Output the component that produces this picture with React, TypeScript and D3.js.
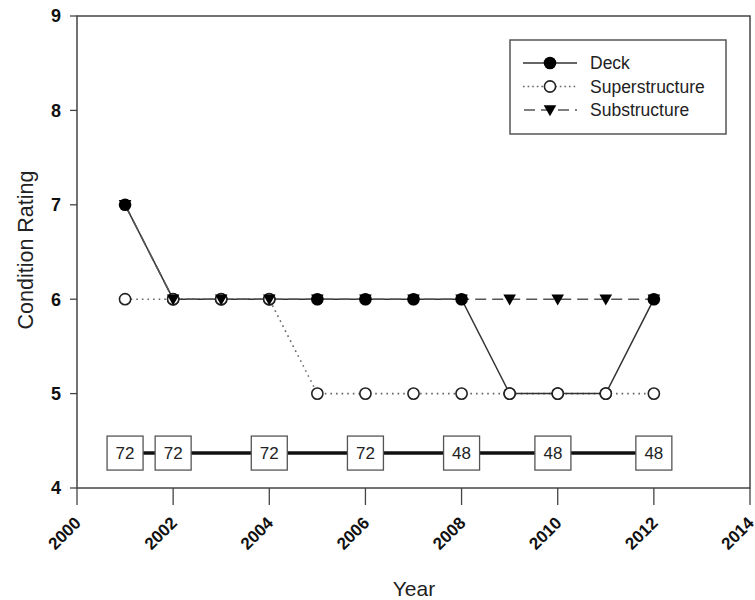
import React from "react";
import * as d3 from "d3";

const years = [2001, 2002, 2003, 2004, 2005, 2006, 2007, 2008, 2009, 2010, 2011, 2012];
const deck = [7, 6, 6, 6, 6, 6, 6, 6, 5, 5, 5, 6];
const superstructure = [6, 6, 6, 6, 5, 5, 5, 5, 5, 5, 5, 5];
const substructure = [7, 6, 6, 6, 6, 6, 6, 6, 6, 6, 6, 6];

const boxYears = [2001, 2002, 2004, 2006, 2008, 2009.9, 2012];
const boxLabels = ["72", "72", "72", "72", "48", "48", "48"];
const boxLevel = 4.37;

const xTicks = [2000, 2002, 2004, 2006, 2008, 2010, 2012, 2014];
const yTicks = [4, 5, 6, 7, 8, 9];

const legendItems = ["Deck", "Superstructure", "Substructure"];

const W = 755;
const H = 600;
const FONT = "Liberation Sans, Arial, sans-serif";

export default function App() {
  const x = d3.scaleLinear().domain([2000, 2014]).range([77, 750]);
  const y = d3.scaleLinear().domain([4, 9]).range([488, 16]);

  const line = d3
    .line<[number, number]>()
    .x((d) => x(d[0]))
    .y((d) => y(d[1]));

  const deckPts = years.map((yr, i) => [yr, deck[i]] as [number, number]);
  const superPts = years.map((yr, i) => [yr, superstructure[i]] as [number, number]);
  const subPts = years.map((yr, i) => [yr, substructure[i]] as [number, number]);

  const tri = (cx: number, cy: number, s: number) =>
    `M${cx - s},${cy - s * 0.75}L${cx + s},${cy - s * 0.75}L${cx},${cy + s}Z`;

  const lineCol = "#333";

  return (
    <svg width={W} height={H} style={{ position: "absolute", left: 0, top: 0, background: "#fff" }}>
      <rect x={0} y={0} width={W} height={H} fill="#fff" />
      {/* frame */}
      <rect x={x(2000)} y={y(9)} width={x(2014) - x(2000)} height={y(4) - y(9)} fill="none" stroke="#444" strokeWidth={1.5} />

      {/* y ticks */}
      {yTicks.map((t) => (
        <g key={"y" + t}>
          <line x1={x(2000) - 7} x2={x(2000)} y1={y(t)} y2={y(t)} stroke="#444" strokeWidth={1.3} />
          <text x={x(2000) - 16} y={y(t)} dy="0.36em" textAnchor="end" fontFamily={FONT} fontWeight="bold" fontSize={18} fill="#111">
            {t}
          </text>
        </g>
      ))}

      {/* x ticks */}
      {xTicks.map((t) => (
        <g key={"x" + t}>
          <line x1={x(t)} x2={x(t)} y1={y(4)} y2={y(4) + 17} stroke="#444" strokeWidth={1.3} />
          <text
            transform={`translate(${x(t) + 5},${y(4) + 36}) rotate(-45)`}
            textAnchor="end"
            fontFamily={FONT}
            fontWeight="bold"
            fontSize={17}
            fill="#111"
          >
            {t}
          </text>
        </g>
      ))}

      {/* axis titles */}
      <text x={414} y={596} textAnchor="middle" fontFamily={FONT} fontSize={21} fill="#222">
        Year
      </text>
      <text transform={`translate(33,250) rotate(-90)`} textAnchor="middle" fontFamily={FONT} fontSize={21.5} fill="#222">
        Condition Rating
      </text>

      {/* bottom thick line with boxes */}
      <line x1={x(boxYears[0])} x2={x(boxYears[boxYears.length - 1])} y1={y(boxLevel)} y2={y(boxLevel)} stroke="#111" strokeWidth={3.5} />
      {boxYears.map((b, i) => (
        <g key={"b" + i}>
          <rect x={x(b) - 18} y={y(boxLevel) - 17} width={36} height={34} fill="#fff" stroke="#555" strokeWidth={1.3} />
          <text x={x(b)} y={y(boxLevel)} dy="0.36em" textAnchor="middle" fontFamily={FONT} fontSize={17} fill="#222">
            {boxLabels[i]}
          </text>
        </g>
      ))}

      {/* lines */}
      <path d={line(superPts) || ""} fill="none" stroke="#666" strokeWidth={1.6} strokeDasharray="1.6,4" />
      <path d={line(deckPts) || ""} fill="none" stroke={lineCol} strokeWidth={1.5} />
      <path d={line(subPts) || ""} fill="none" stroke="#555" strokeWidth={1.6} strokeDasharray="11,6" />

      {/* markers */}
      {deckPts.map((p, i) => (
        <circle key={"dm" + i} cx={x(p[0])} cy={y(p[1])} r={6.3} fill="#000" />
      ))}
      {superPts.map((p, i) => (
        <circle key={"sm" + i} cx={x(p[0])} cy={y(p[1])} r={5.6} fill="#fff" stroke="#222" strokeWidth={1.6} />
      ))}
      {subPts.map((p, i) => (
        <path key={"tm" + i} d={tri(x(p[0]), y(p[1]), 6.3)} fill="#000" />
      ))}

      {/* legend */}
      <rect x={510} y={40} width={216} height={94} fill="#fff" stroke="#555" strokeWidth={1.5} />
      {legendItems.map((name, i) => {
        const ly = 63 + i * 23.5;
        return (
          <g key={"lg" + i}>
            {i === 0 && (
              <>
                <line x1={523} x2={577} y1={ly} y2={ly} stroke={lineCol} strokeWidth={1.5} />
                <circle cx={550} cy={ly} r={6.3} fill="#000" />
              </>
            )}
            {i === 1 && (
              <>
                <line x1={523} x2={577} y1={ly} y2={ly} stroke="#666" strokeWidth={1.6} strokeDasharray="1.6,3" />
                <circle cx={550} cy={ly} r={5.6} fill="#fff" stroke="#222" strokeWidth={1.6} />
              </>
            )}
            {i === 2 && (
              <>
                <line x1={523} x2={577} y1={ly} y2={ly} stroke="#555" strokeWidth={1.6} strokeDasharray="11,6" strokeDashoffset={-1} />
                <path d={tri(550, ly, 6.3)} fill="#000" />
              </>
            )}
            <text x={590} y={ly} dy="0.36em" fontFamily={FONT} fontSize={17.5} fill="#222">
              {name}
            </text>
          </g>
        );
      })}
    </svg>
  );
}
